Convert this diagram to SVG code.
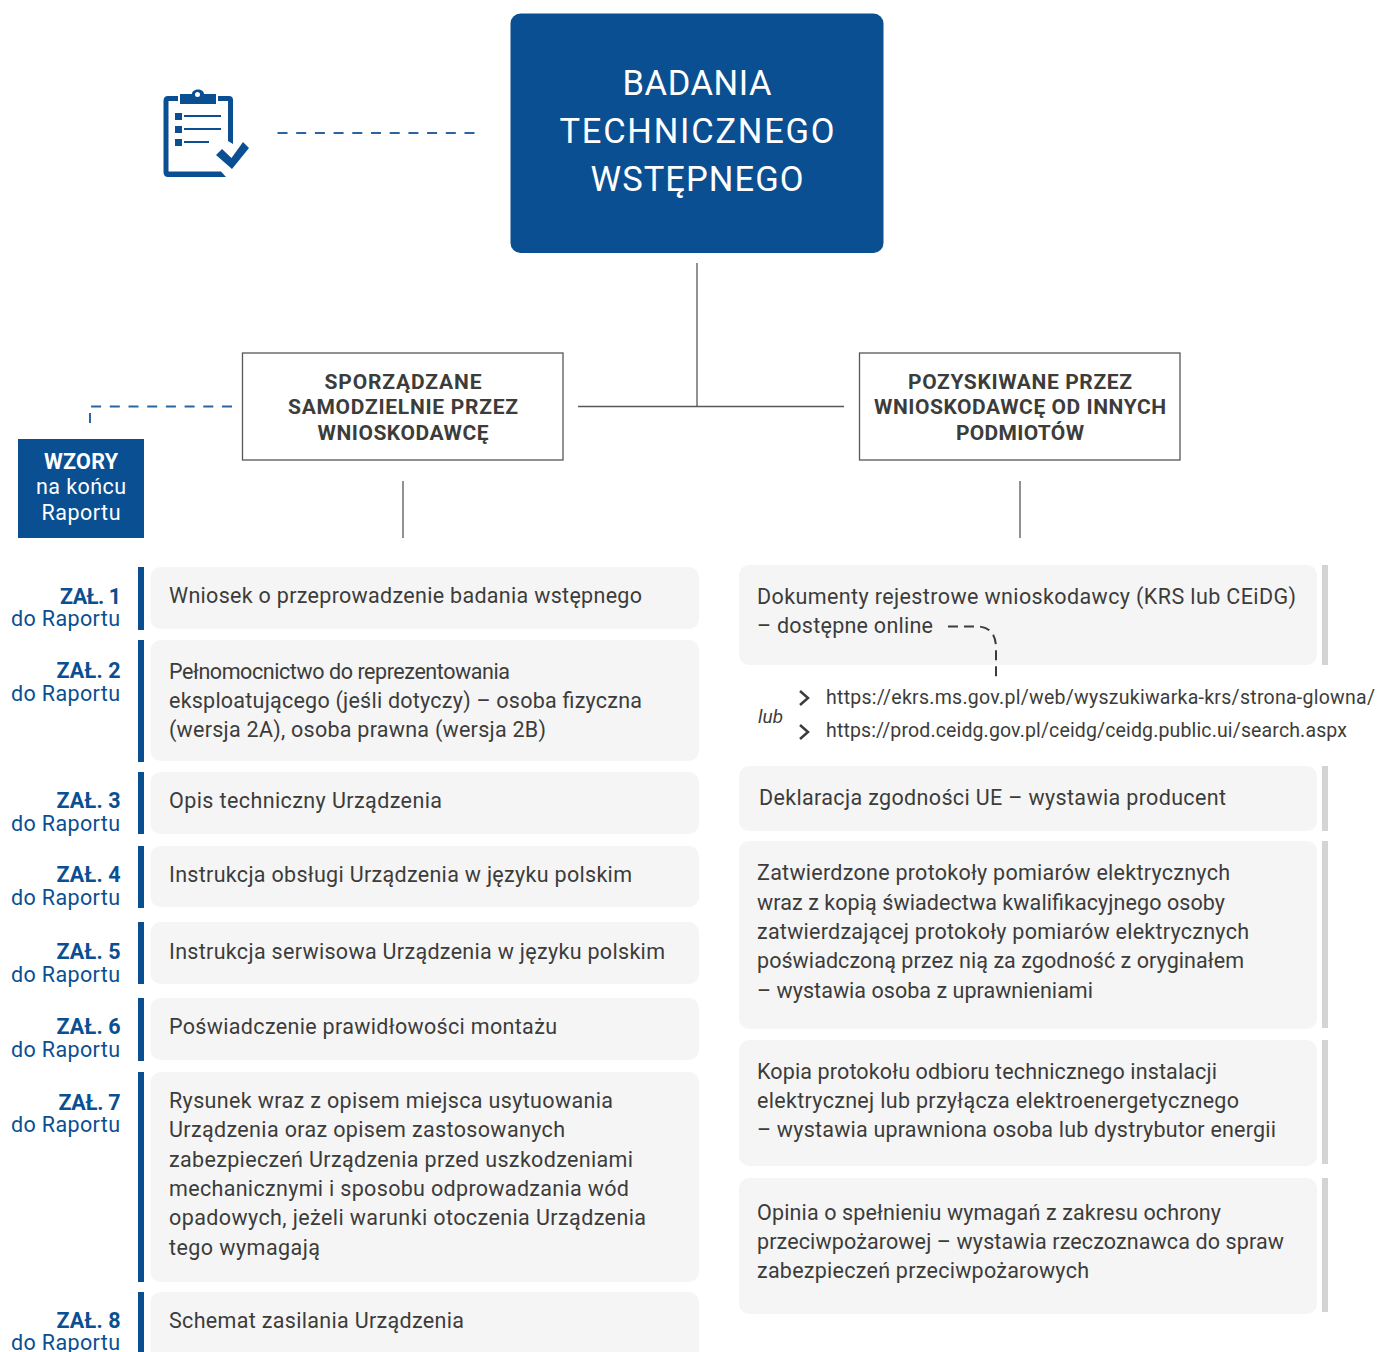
<svg xmlns="http://www.w3.org/2000/svg" width="1378" height="1352" viewBox="0 0 1378 1352">
<style>
text{font-family:"Roboto","Liberation Sans",sans-serif}
.t{font-size:21.5px;fill:#3c3c3b}
.h{font-size:21px;font-weight:700;fill:#3c3c3b;text-anchor:middle}
.z{font-size:21.5px;font-weight:700;fill:#0a4f92;text-anchor:end}
.d{font-size:21.5px;fill:#0a4f92;text-anchor:end}
.u{font-size:19.5px;fill:#3c3c3b}
.b{fill:#f5f5f5}
.bl{fill:#0a4f92}
.g{fill:#d4d4d4}
.box{fill:#fff;stroke:#575756;stroke-width:1.3}
.ln{fill:none;stroke:#575756;stroke-width:1.3}
.ds{fill:none;stroke:#2b659f;stroke-width:2;stroke-dasharray:10 8.7}
.w{fill:#fff;text-anchor:middle}
</style>
<g id="icon">
<path class="bl" d="M163.500 101Q163.500 96 168 96H178V101H168.500V171.500H221L226 177H168Q163.500 177 163.500 172Z"/>
<path class="bl" d="M218 96H229Q233 96 233 100V144L228 141V101H218Z"/>
<path class="bl" d="M180 94H192C192 88 204 88 204 94H216V104H180Z"/>
<circle cx="197.500" cy="94.500" r="2.500" fill="#fff"/>
<rect class="bl" x="175" y="113" width="7" height="7"/><rect class="bl" x="184" y="115" width="37" height="2"/>
<rect class="bl" x="175" y="126" width="7" height="7"/><rect class="bl" x="184" y="128" width="37" height="2"/>
<rect class="bl" x="175" y="139" width="7" height="7"/><rect class="bl" x="184" y="141" width="25" height="2"/>
<path class="bl" d="M216 155L222 149L231.500 158L243 142L249 148L232 169Z"/>
</g>
<g id="main"><rect class="bl" x="510.500" y="13.500" width="373" height="239.500" rx="10"/>
<g font-size="34.500"><text class="w" x="697" y="95" textLength="149">BADANIA</text><text class="w" x="697" y="143" textLength="275">TECHNICZNEGO</text><text class="w" x="697" y="191" textLength="213">WSTĘPNEGO</text></g></g>
<g id="sam"><rect class="box" x="242.500" y="353" width="320.500" height="107"/>
<text class="h" x="403" y="389" textLength="157">SPORZĄDZANE</text><text class="h" x="403" y="414" textLength="230">SAMODZIELNIE PRZEZ</text><text class="h" x="403" y="440" textLength="171">WNIOSKODAWCĘ</text></g>
<g id="poz"><rect class="box" x="859.500" y="353" width="320.500" height="107"/>
<text class="h" x="1020" y="389" textLength="224">POZYSKIWANE PRZEZ</text><text class="h" x="1020" y="414" textLength="292">WNIOSKODAWCĘ OD INNYCH</text><text class="h" x="1020" y="440" textLength="128">PODMIOTÓW</text></g>
<g id="wzory"><rect class="bl" x="18" y="439" width="126" height="99"/>
<text class="w" x="81" y="469" font-size="21.500" font-weight="700" textLength="74">WZORY</text><text class="w" x="81" y="494" font-size="21.500" textLength="90">na końcu</text><text class="w" x="81" y="520" font-size="21.500" textLength="79">Raportu</text></g>

<g id="z1"><rect class="bl" x="138" y="567" width="6" height="63"/><rect class="b" x="150.500" y="567" width="548.500" height="62" rx="10"/>
<text class="z" x="121" y="604" textLength="61">ZAŁ. 1</text><text class="d" x="120" y="626" textLength="109">do Raportu</text>
<text class="t" x="169" y="603" textLength="473">Wniosek o przeprowadzenie badania wstępnego</text></g>
<g id="z2"><rect class="bl" x="138" y="640" width="6" height="122"/><rect class="b" x="150.500" y="640" width="548.500" height="121" rx="10"/>
<text class="z" x="120.500" y="678" textLength="64">ZAŁ. 2</text><text class="d" x="120" y="701" textLength="109">do Raportu</text>
<text class="t" x="169" y="679" textLength="341">Pełnomocnictwo do reprezentowania</text><text class="t" x="169" y="708" textLength="473">eksploatującego (jeśli dotyczy) – osoba fizyczna</text><text class="t" x="169" y="737" textLength="377">(wersja 2A), osoba prawna (wersja 2B)</text></g>
<g id="z3"><rect class="bl" x="138" y="772" width="6" height="62"/><rect class="b" x="150.500" y="772" width="548.500" height="62" rx="10"/>
<text class="z" x="120.500" y="808" textLength="64">ZAŁ. 3</text><text class="d" x="120" y="831" textLength="109">do Raportu</text>
<text class="t" x="169" y="808" textLength="273">Opis techniczny Urządzenia</text></g>
<g id="z4"><rect class="bl" x="138" y="846" width="6" height="62"/><rect class="b" x="150.500" y="846" width="548.500" height="61" rx="10"/>
<text class="z" x="120.500" y="882" textLength="64">ZAŁ. 4</text><text class="d" x="120" y="905" textLength="109">do Raportu</text>
<text class="t" x="169" y="882" textLength="463">Instrukcja obsługi Urządzenia w języku polskim</text></g>
<g id="z5"><rect class="bl" x="138" y="922" width="6" height="62"/><rect class="b" x="150.500" y="922" width="548.500" height="62" rx="10"/>
<text class="z" x="120.500" y="959" textLength="64">ZAŁ. 5</text><text class="d" x="120" y="982" textLength="109">do Raportu</text>
<text class="t" x="169" y="959" textLength="496">Instrukcja serwisowa Urządzenia w języku polskim</text></g>
<g id="z6"><rect class="bl" x="138" y="998" width="6" height="63"/><rect class="b" x="150.500" y="998" width="548.500" height="62" rx="10"/>
<text class="z" x="120.500" y="1034" textLength="64">ZAŁ. 6</text><text class="d" x="120" y="1057" textLength="109">do Raportu</text>
<text class="t" x="169" y="1034" textLength="388">Poświadczenie prawidłowości montażu</text></g>
<g id="z7"><rect class="bl" x="138" y="1072" width="6" height="210"/><rect class="b" x="150.500" y="1072" width="548.500" height="210" rx="10"/>
<text class="z" x="120.500" y="1110" textLength="62">ZAŁ. 7</text><text class="d" x="120" y="1132" textLength="109">do Raportu</text>
<text class="t" x="169" y="1108" textLength="444">Rysunek wraz z opisem miejsca usytuowania</text><text class="t" x="169" y="1137" textLength="396">Urządzenia oraz opisem zastosowanych</text><text class="t" x="169" y="1167" textLength="464">zabezpieczeń Urządzenia przed uszkodzeniami</text><text class="t" x="169" y="1196" textLength="460">mechanicznymi i sposobu odprowadzania wód</text><text class="t" x="169" y="1225" textLength="477">opadowych, jeżeli warunki otoczenia Urządzenia</text><text class="t" x="169" y="1255" textLength="151">tego wymagają</text></g>
<g id="z8"><rect class="bl" x="138" y="1292" width="6" height="60"/><rect class="b" x="150.500" y="1292" width="548.500" height="70" rx="10"/>
<text class="z" x="120.500" y="1328" textLength="64">ZAŁ. 8</text><text class="d" x="120" y="1350" textLength="109">do Raportu</text>
<text class="t" x="169" y="1328" textLength="295">Schemat zasilania Urządzenia</text></g>

<g id="r1"><rect class="b" x="739" y="565" width="578" height="100" rx="10"/><rect class="g" x="1322" y="565" width="6" height="100"/>
<text class="t" x="757" y="604" textLength="539">Dokumenty rejestrowe wnioskodawcy (KRS lub CEiDG)</text><text class="t" x="757" y="633" textLength="176">– dostępne online</text></g>
<g id="links">
<text x="758" y="723" font-size="19" font-style="italic" fill="#3c3c3b">lub</text>
<path d="M800 691L808 698L800 705M800 725L808 732L800 739" fill="none" stroke="#3c3c3b" stroke-width="2.500"/>
<text class="u" x="826" y="704" textLength="549">https://ekrs.ms.gov.pl/web/wyszukiwarka-krs/strona-glowna/</text>
<text class="u" x="826" y="737" textLength="521">https://prod.ceidg.gov.pl/ceidg/ceidg.public.ui/search.aspx</text></g>
<g id="r2"><rect class="b" x="739" y="766" width="578" height="65" rx="10"/><rect class="g" x="1322" y="766" width="6" height="65"/>
<text class="t" x="759" y="805" textLength="467">Deklaracja zgodności UE – wystawia producent</text></g>
<g id="r3"><rect class="b" x="739" y="841" width="578" height="188" rx="10"/><rect class="g" x="1322" y="841" width="6" height="187"/>
<text class="t" x="757" y="880" textLength="473">Zatwierdzone protokoły pomiarów elektrycznych</text><text class="t" x="757" y="910" textLength="468">wraz z kopią świadectwa kwalifikacyjnego osoby</text><text class="t" x="757" y="939" textLength="492">zatwierdzającej protokoły pomiarów elektrycznych</text><text class="t" x="757" y="968" textLength="487">poświadczoną przez nią za zgodność z oryginałem</text><text class="t" x="757" y="998" textLength="336">– wystawia osoba z uprawnieniami</text></g>
<g id="r4"><rect class="b" x="739" y="1040" width="578" height="126" rx="10"/><rect class="g" x="1322" y="1040" width="6" height="124"/>
<text class="t" x="757" y="1079" textLength="460">Kopia protokołu odbioru technicznego instalacji</text><text class="t" x="757" y="1108" textLength="482">elektrycznej lub przyłącza elektroenergetycznego</text><text class="t" x="757" y="1137" textLength="519">– wystawia uprawniona osoba lub dystrybutor energii</text></g>
<g id="r5"><rect class="b" x="739" y="1178" width="578" height="136" rx="10"/><rect class="g" x="1322" y="1178" width="6" height="134"/>
<text class="t" x="757" y="1220" textLength="464">Opinia o spełnieniu wymagań z zakresu ochrony</text><text class="t" x="757" y="1249" textLength="527">przeciwpożarowej – wystawia rzeczoznawca do spraw</text><text class="t" x="757" y="1278" textLength="332">zabezpieczeń przeciwpożarowych</text></g>
<g id="connectors">
<path class="ln" d="M697 263V406M578 406.500H844M403 481V538M1020 481V538"/>
<path class="ds" d="M277.500 133H476"/>
<path class="ds" d="M232 406.500H91M90 413V424"/>
<path d="M948 626.500H979Q996 628 996 648V680" fill="none" stroke="#3c3c3b" stroke-width="2" stroke-dasharray="10 6"/>
</g>
</svg>
